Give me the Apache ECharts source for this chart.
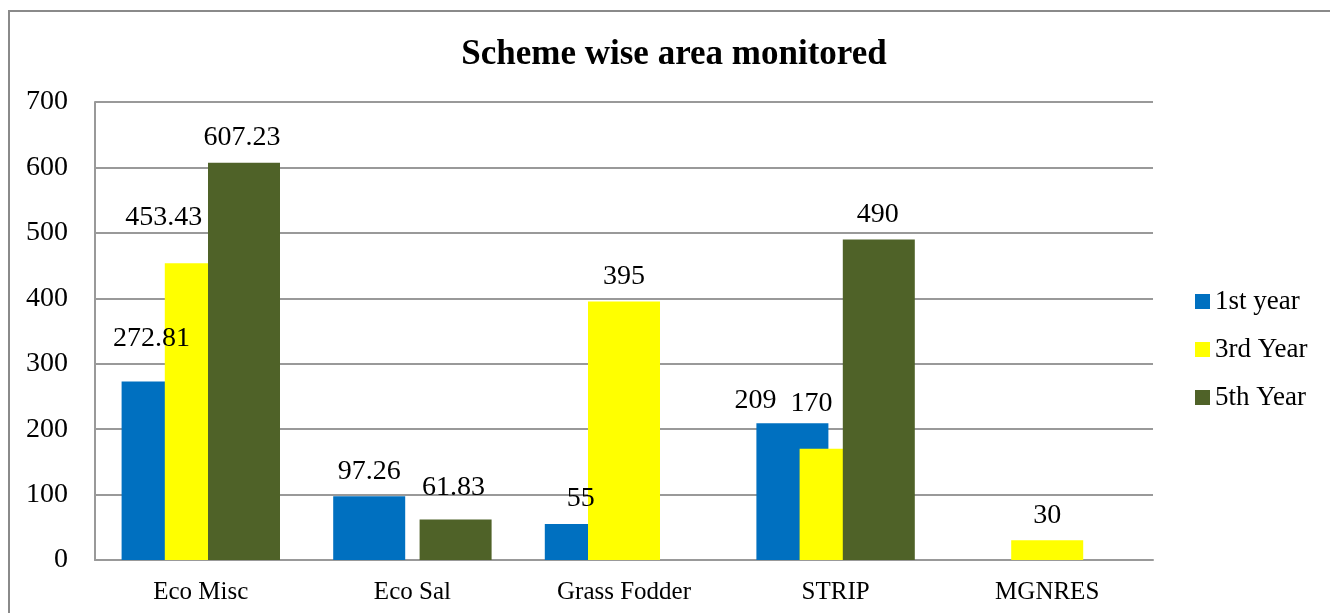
<!DOCTYPE html>
<html>
<head>
<meta charset="utf-8">
<script src="https://cdn.jsdelivr.net/npm/echarts@6/dist/echarts.min.js"></script>
<style>
  html, body { margin: 0; padding: 0; background: #fff; }
  #chart { width: 1330px; height: 613px; }
</style>
</head>
<body>
<div id="chart"></div>
<script>
// data
const categories = ['Eco Misc', 'Eco Sal', 'Grass Fodder', 'STRIP', 'MGNRES'];
const seriesNames = ['1st year', '3rd Year', '5th Year'];
const firstYear = [272.81, 97.26, 55, 209, null];
const thirdYear = [453.43, null, 395, 170, 30];
const fifthYear = [607.23, 61.83, null, 490, null];
const yMin = 0;
const yMax = 700;
const yStep = 100;

const colors = ['#0070C0', '#FFFF00', '#4F6228'];
const serif = 'Liberation Serif';

// a few labels were dragged by hand in the original chart
const labelNudge = {
  '0-0': [-6, -18],
  '1-0': [-37, -21],
  '2-0': [-2, 0],
  '2-1': [-2, -7],
  '0-3': [-37, 2],
  '1-3': [-24, -20],
  '2-3': [-1, 0]
};

function makeSeries(values, s) {
  return {
    name: seriesNames[s],
    type: 'bar',
    barWidth: 72,
    barGap: '-40%',
    itemStyle: { color: colors[s] },
    label: {
      show: true,
      position: 'top',
      distance: 11,
      color: '#000',
      fontFamily: serif,
      fontSize: 28
    },
    data: values.map(function (v, i) {
      const item = { value: v === null ? '-' : v };
      const n = labelNudge[s + '-' + i];
      if (n) item.label = { offset: n };
      return item;
    })
  };
}

const chart = echarts.init(document.getElementById('chart'));
chart.setOption({
  animation: false,
  title: {
    text: 'Scheme wise area monitored',
    left: 669,
    textAlign: 'center',
    top: 32,
    textStyle: { fontFamily: serif, fontWeight: 'bold', fontSize: 35, color: '#000' }
  },
  graphic: [{
    type: 'rect',
    shape: { x: 9, y: 11, width: 1400, height: 700 },
    style: { fill: 'none', stroke: '#8a8a8a', lineWidth: 2 },
    silent: true
  }],
  legend: {
    orient: 'vertical',
    left: 1190,
    top: 283,
    itemWidth: 15,
    itemHeight: 15,
    itemGap: 21,
    icon: 'rect',
    textStyle: { fontFamily: serif, fontSize: 27, color: '#000' },
    data: seriesNames
  },
  grid: { left: 95, right: 177, top: 102, bottom: 53 },
  xAxis: {
    type: 'category',
    data: categories,
    axisLine: { lineStyle: { color: '#999', width: 2 } },
    axisTick: { show: false },
    axisLabel: { fontFamily: serif, fontSize: 25, color: '#000', margin: 20 }
  },
  yAxis: {
    type: 'value',
    min: yMin,
    max: yMax,
    interval: yStep,
    axisLine: { show: true, lineStyle: { color: '#999', width: 2 } },
    axisTick: { show: false },
    splitLine: { lineStyle: { color: '#999', width: 2 } },
    axisLabel: { fontFamily: serif, fontSize: 28, color: '#000', margin: 27 }
  },
  series: [
    makeSeries(firstYear, 0),
    makeSeries(thirdYear, 1),
    makeSeries(fifthYear, 2)
  ]
});
</script>
</body>
</html>
